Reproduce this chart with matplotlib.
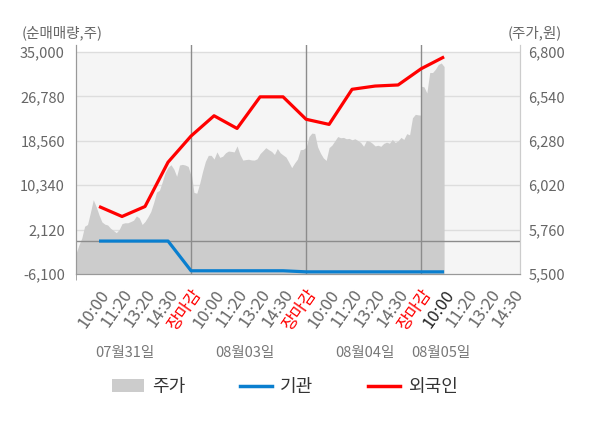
import numpy as np
import matplotlib
matplotlib.use("Agg")
import matplotlib.pyplot as plt
from matplotlib.patches import Patch
from matplotlib.lines import Line2D
from matplotlib.transforms import blended_transform_factory

plt.rcParams['font.family'] = ['Noto Sans CJK KR', 'DejaVu Sans']

# ---- data -------------------------------------------------------------
day_labels = ['07월31일', '08월03일', '08월04일', '08월05일']
time_labels = ['10:00', '11:20', '13:20', '14:30', '장마감']
slots_per_day = 5

# 주가 (원), sampled evenly through each session
price_d1 = [5620, 5670, 5710, 5780, 5790, 5860, 5935, 5895, 5846, 5805,
            5792, 5787, 5768, 5755, 5742, 5760, 5795, 5800, 5800, 5807,
            5815, 5840, 5828, 5790, 5808, 5835, 5866, 5918, 5980, 5990,
            6040, 6095, 6125, 6140, 6115, 6072, 6138, 6142, 6138, 6130, 6075]
price_d2 = [6100, 5978, 5973, 6030, 6100, 6160, 6195, 6195, 6173, 6215,
            6183, 6190, 6210, 6220, 6218, 6215, 6250, 6200, 6167, 6170,
            6172, 6168, 6167, 6175, 6205, 6222, 6240, 6228, 6218, 6200,
            6235, 6210, 6197, 6185, 6155, 6123, 6150, 6173, 6228, 6230, 6242]
price_d3 = [6240, 6305, 6325, 6323, 6245, 6208, 6180, 6165, 6240, 6255,
            6280, 6305, 6298, 6300, 6292, 6294, 6286, 6292, 6282, 6270,
            6248, 6282, 6278, 6266, 6250, 6254, 6248, 6265, 6272, 6266,
            6288, 6270, 6280, 6300, 6288, 6322, 6315, 6415, 6435, 6432, 6430]
price_d4 = [6600, 6596, 6560, 6680, 6680, 6700, 6727, 6736, 6715]
price_days = [price_d1, price_d2, price_d3, price_d4]
price_day_slots = [5, 5, 5, 1]   # how far each day's session got

# 순매매량 (주) at each time label
foreign = [6400, 4550, 6400, 14600, 19450, 23200, 20850, 26700, 26700,
           22550, 21600, 28100, 28700, 28900, 31900, 34100]
institution = [0, 0, 0, 0, -5500, -5500, -5500, -5500, -5500,
               -5700, -5700, -5700, -5700, -5700, -5700, -5700]

left_ticks = [-6100, 2120, 10340, 18560, 26780, 35000]
right_ticks = [5500, 5760, 6020, 6280, 6540, 6800]

# ---- figure -------------------------------------------------------------
fig = plt.figure(figsize=(6.0, 4.28), dpi=100)
ax = fig.add_axes([0.1267, 0.3598, 0.74, 0.535])
ax2 = ax.twinx()

head = 7 / 222  # plot frame sticks out a little above the top tick
ax.set_ylim(right_ticks[0], right_ticks[-1] + (right_ticks[-1] - right_ticks[0]) * head)
ax2.set_ylim(left_ticks[0], left_ticks[-1] + (left_ticks[-1] - left_ticks[0]) * head)
n_slots = slots_per_day * 3 + 4
ax.set_xlim(0, n_slots + 0.3)

# background band and grid
ax.axhspan(right_ticks[0], right_ticks[-1], color='#f5f5f5', zorder=0, lw=0)
for v in right_ticks[1:]:
    ax.axhline(v, color='#dddddd', lw=1, zorder=0.5)

# price area
px, py = [], []
for d, vals in enumerate(price_days):
    start = d * slots_per_day
    px.extend(start + np.linspace(0, price_day_slots[d], len(vals)))
    py.extend(vals)
ax.fill_between(px, right_ticks[0], py, color='#cccccc', lw=0, zorder=1)

# day separators
for d in range(1, 4):
    ax.axvline(d * slots_per_day, color='#8c8c8c', lw=1, zorder=2)

# axes moved: left is net-buy (ax2), right is price (ax)
ax.yaxis.tick_right()
ax2.yaxis.tick_left()
ax2.axhline(0, color='#8c8c8c', lw=1, zorder=2)

xs = np.arange(1, len(foreign) + 1)
ax2.plot(xs, institution, color='#0a7fcf', lw=2.3, zorder=3, solid_capstyle='butt')
ax2.plot(xs, foreign, color='#ff0000', lw=2.3, zorder=4, solid_capstyle='butt')

ax.set_yticks(right_ticks)
ax.set_yticklabels([f'{v:,}' for v in right_ticks])
ax2.set_yticks(left_ticks)
ax2.set_yticklabels([f'{v:,}' for v in left_ticks])
ax.tick_params(axis='y', length=0, pad=6, labelsize=10.5, labelcolor='#666666')
ax2.tick_params(axis='y', length=0, pad=8, labelsize=10.5, labelcolor='#666666')

# x ticks
tick_pos = np.arange(1, n_slots + 1)
tick_text = (time_labels * 4)[:n_slots]
ax.set_xticks(tick_pos)
ax.set_xticklabels(tick_text, rotation=55, ha='right', va='top',
                   rotation_mode='anchor')
ax.set_xticks([d * slots_per_day for d in range(4)], minor=True)
ax.tick_params(axis='x', which='major', length=0, pad=9, labelsize=12)
ax.tick_params(axis='x', which='minor', length=4, color='#999999')
for i, lbl in enumerate(ax.get_xticklabels()):
    if lbl.get_text() == '장마감':
        lbl.set_color('#ff0000')
    elif i == 3 * slots_per_day:
        lbl.set_color('#222222')
    else:
        lbl.set_color('#666666')

for a in (ax, ax2):
    a.spines['top'].set_visible(False)
    a.spines['left'].set_color('#999999')
    a.spines['bottom'].set_color('#999999')
    a.spines['right'].set_color('#cccccc')
ax.patch.set_facecolor('white')

# date labels below the time ticks
trans = blended_transform_factory(ax.transData, ax.transAxes)
date_x = [2.13, 7.35, 12.57, 15.87]
for x, t in zip(date_x, day_labels):
    ax.text(x, -0.345, t, transform=trans, ha='center', va='center',
            fontsize=10.5, color='#777777')

# axis captions
fig.text(22 / 600, 1 - 33 / 428, '(순매매량,주)', ha='left', va='center',
         fontsize=10.5, color='#666666')
fig.text(562 / 600, 1 - 33 / 428, '(주가,원)', ha='right', va='center',
         fontsize=10.5, color='#666666')

handles = [Patch(facecolor='#cccccc', edgecolor='none'),
           Line2D([], [], color='#0a7fcf', lw=2.5),
           Line2D([], [], color='#ff0000', lw=2.5)]
fig.legend(handles, ['주가', '기관', '외국인'], ncol=3, frameon=False,
           loc='center', bbox_to_anchor=(0.475, 1 - 387 / 428),
           fontsize=13, handlelength=1.8, handleheight=0.75,
           handletextpad=0.45, columnspacing=3.0, labelcolor='#333333')

fig.savefig('out.png', dpi=100)
